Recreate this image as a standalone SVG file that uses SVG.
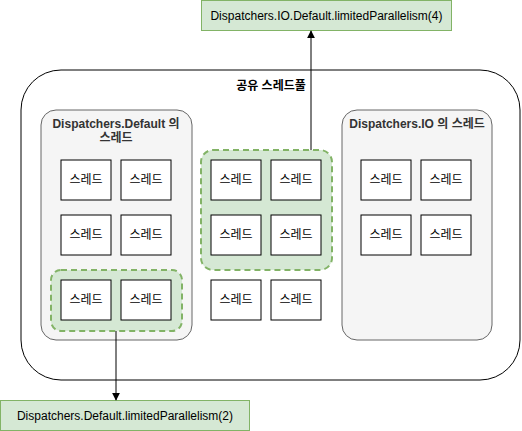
<svg xmlns="http://www.w3.org/2000/svg" width="522" height="431" viewBox="0 0 522 431">
<defs>
<marker id="arr" viewBox="0 0 10 10" refX="9" refY="5" markerWidth="8" markerHeight="8" markerUnits="userSpaceOnUse" orient="auto">
<path d="M0,0 L10,5 L0,10 z" fill="#000"/>
</marker>
<style>
text{font-family:"Liberation Sans","Noto Sans CJK KR",sans-serif;font-size:12px;fill:#000;text-anchor:middle;dominant-baseline:central}
.b{font-weight:bold}
.gt{fill:#333}
.pool{fill:#fff;stroke:#000;stroke-width:1}
.grp{fill:#f5f5f5;stroke:#666;stroke-width:1}
.sel{fill:#d5e8d4;stroke:#82b366;stroke-width:2;stroke-dasharray:6 4}
.th{fill:#fff;stroke:#000;stroke-width:1}
.lbl{fill:#d5e8d4;stroke:#82b366;stroke-width:1}
.edge{fill:none;stroke:#000;stroke-width:1}
</style>
</defs>
<rect width="522" height="431" fill="#fff"/>
<g id="pool">
<rect class="pool" x="21" y="70" width="499" height="310" rx="40" ry="40"/>
<text class="b" x="271" y="86">공유 스레드풀</text>
</g>
<g id="default-group">
<rect class="grp" x="41" y="110" width="151" height="230" rx="15" ry="15"/>
<text class="b gt" x="116" y="124">Dispatchers.Default 의</text>
<text class="b gt" x="116" y="138">스레드</text>
</g>
<g id="io-group">
<rect class="grp" x="342" y="110" width="150" height="230" rx="15" ry="15"/>
<text class="b gt" x="417" y="124">Dispatchers.IO 의 스레드</text>
</g>
<g id="sel-default">
<rect class="sel" x="51" y="270" width="131" height="61" rx="10" ry="10"/>
</g>
<g id="sel-io">
<rect class="sel" x="201" y="150" width="131" height="120" rx="12" ry="12"/>
</g>
<g id="t1"><rect class="th" x="61" y="160" width="50" height="40"/><text x="86" y="180">스레드</text></g>
<g id="t2"><rect class="th" x="121" y="160" width="50" height="40"/><text x="146" y="180">스레드</text></g>
<g id="t3"><rect class="th" x="61" y="215" width="50" height="40"/><text x="86" y="235">스레드</text></g>
<g id="t4"><rect class="th" x="121" y="215" width="50" height="40"/><text x="146" y="235">스레드</text></g>
<g id="t5"><rect class="th" x="61" y="280" width="50" height="40"/><text x="86" y="300">스레드</text></g>
<g id="t6"><rect class="th" x="121" y="280" width="50" height="40"/><text x="146" y="300">스레드</text></g>
<g id="t7"><rect class="th" x="211" y="160" width="50" height="40"/><text x="236" y="180">스레드</text></g>
<g id="t8"><rect class="th" x="271" y="160" width="50" height="40"/><text x="296" y="180">스레드</text></g>
<g id="t9"><rect class="th" x="211" y="215" width="50" height="40"/><text x="236" y="235">스레드</text></g>
<g id="t10"><rect class="th" x="271" y="215" width="50" height="40"/><text x="296" y="235">스레드</text></g>
<g id="t11"><rect class="th" x="211" y="280" width="50" height="40"/><text x="236" y="300">스레드</text></g>
<g id="t12"><rect class="th" x="271" y="280" width="50" height="40"/><text x="296" y="300">스레드</text></g>
<g id="t13"><rect class="th" x="361" y="160" width="50" height="40"/><text x="386" y="180">스레드</text></g>
<g id="t14"><rect class="th" x="421" y="160" width="50" height="40"/><text x="446" y="180">스레드</text></g>
<g id="t15"><rect class="th" x="361" y="215" width="50" height="40"/><text x="386" y="235">스레드</text></g>
<g id="t16"><rect class="th" x="421" y="215" width="50" height="40"/><text x="446" y="235">스레드</text></g>
<g id="label-io">
<rect class="lbl" x="201.5" y="0.5" width="250" height="30"/>
<text x="326.5" y="16">Dispatchers.IO.Default.limitedParallelism(4)</text>
</g>
<g id="label-default">
<rect class="lbl" x="0.5" y="400.5" width="249" height="30"/>
<text x="125" y="416">Dispatchers.Default.limitedParallelism(2)</text>
</g>
<g id="connectors">
<path class="edge" d="M311,150 L311,31" marker-end="url(#arr)"/>
<path class="edge" d="M116,331 L116,400" marker-end="url(#arr)"/>
</g>
</svg>
